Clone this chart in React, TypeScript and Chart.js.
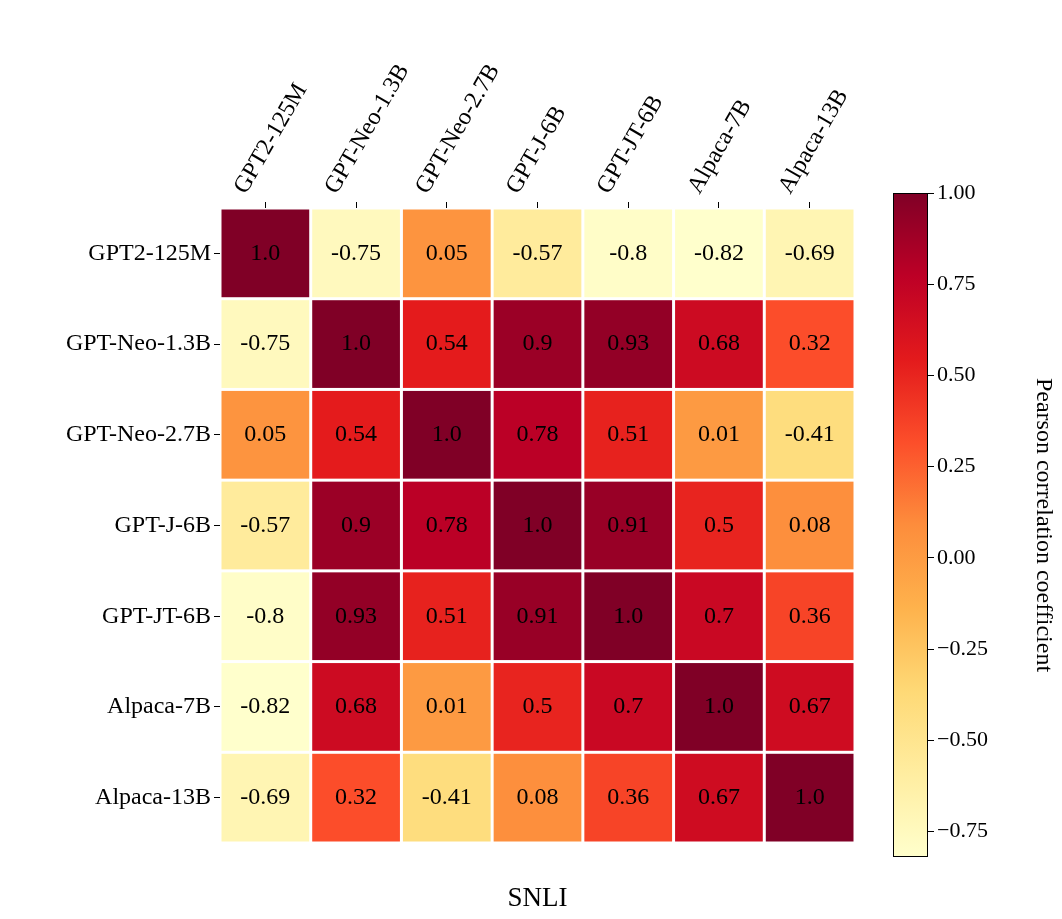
import React, { useEffect, useRef } from "react";
import { Chart, registerables } from "chart.js";
Chart.register(...registerables);

const models = ["GPT2-125M", "GPT-Neo-1.3B", "GPT-Neo-2.7B", "GPT-J-6B", "GPT-JT-6B", "Alpaca-7B", "Alpaca-13B"];
const row0 = [1.0, -0.75, 0.05, -0.57, -0.8, -0.82, -0.69];
const row1 = [-0.75, 1.0, 0.54, 0.9, 0.93, 0.68, 0.32];
const row2 = [0.05, 0.54, 1.0, 0.78, 0.51, 0.01, -0.41];
const row3 = [-0.57, 0.9, 0.78, 1.0, 0.91, 0.5, 0.08];
const row4 = [-0.8, 0.93, 0.51, 0.91, 1.0, 0.7, 0.36];
const row5 = [-0.82, 0.68, 0.01, 0.5, 0.7, 1.0, 0.67];
const row6 = [-0.69, 0.32, -0.41, 0.08, 0.36, 0.67, 1.0];
const matrix = [row0, row1, row2, row3, row4, row5, row6];
const cbTicks = [-0.75, -0.5, -0.25, 0, 0.25, 0.5, 0.75, 1.0];
const vMin = -0.82;
const vMax = 1.0;

const stops = ["#ffffcc", "#ffeda0", "#fed976", "#feb24c", "#fd8d3c", "#fc4e2a", "#e31a1c", "#bd0026", "#800026"];
function hex(c: string) { return [1, 3, 5].map(i => parseInt(c.slice(i, i + 2), 16)); }
function cmap(v: number) {
  let t = (v - vMin) / (vMax - vMin);
  t = Math.max(0, Math.min(1, t)) * (stops.length - 1);
  const i = Math.min(Math.floor(t), stops.length - 2);
  const f = t - i;
  const a = hex(stops[i]), b = hex(stops[i + 1]);
  return `rgb(${a.map((x, k) => Math.round(x + (b[k] - x) * f)).join(",")})`;
}
const FONT = "'Liberation Serif', 'DejaVu Serif', serif";
const fmt = (v: number) => (Number.isInteger(v) ? v.toFixed(1) : String(v));

export default function App() {
  const hm = useRef<HTMLCanvasElement>(null);
  const cb = useRef<HTMLCanvasElement>(null);
  useEffect(() => {
    const cells: any[] = [];
    matrix.forEach((r, y) => r.forEach((v, x) => cells.push({ x, y, v })));
    const heat = {
      id: "heat",
      beforeDatasetsDraw(chart: any) {
        const { ctx, scales } = chart;
        const xs = scales.x, ys = scales.y;
        ctx.save();
        cells.forEach(c => {
          const x0 = xs.getPixelForValue(c.x - 0.5), x1 = xs.getPixelForValue(c.x + 0.5);
          const y0 = ys.getPixelForValue(c.y - 0.5), y1 = ys.getPixelForValue(c.y + 0.5);
          ctx.fillStyle = cmap(c.v);
          ctx.fillRect(x0 + 1.5, y0 + 1.5, x1 - x0 - 3, y1 - y0 - 3);
          ctx.fillStyle = "#000";
          ctx.font = `24px ${FONT}`;
          ctx.textAlign = "center";
          ctx.textBaseline = "middle";
          ctx.fillText(fmt(c.v), (x0 + x1) / 2, (y0 + y1) / 2);
        });
        ctx.restore();
      },
    };
    const ch1 = new Chart(hm.current!, {
      type: "scatter",
      data: { datasets: [{ data: cells.map(c => ({ x: c.x, y: c.y })), pointRadius: 0 }] },
      options: {
        animation: false, responsive: false,
        layout: { padding: { left: 8, right: 25, top: 8, bottom: 0 } },
        plugins: { legend: { display: false }, tooltip: { enabled: false } },
        scales: {
          x: {
            position: "top", min: -0.5, max: 6.5,
            afterBuildTicks: (s: any) => { s.ticks = models.map((_, i) => ({ value: i })); },
            afterFit: (s: any) => { s.height = 200; },
            ticks: { callback: (v: any) => models[v as number], maxRotation: 60, minRotation: 60, color: "#000", font: { family: FONT, size: 24 } },
            grid: { drawOnChartArea: false, tickLength: 6, color: "#000" },
            border: { display: false },
          },
          x2: {
            position: "bottom", min: -0.5, max: 6.5, afterFit: (s: any) => { s.height = 76; },
            ticks: { display: false }, grid: { display: false }, border: { display: false },
            title: { display: true, text: "SNLI", color: "#000", font: { family: FONT, size: 27 }, padding: { top: 20 } },
          },
          y: {
            min: -0.5, max: 6.5, reverse: true,
            afterBuildTicks: (s: any) => { s.ticks = models.map((_, i) => ({ value: i })); },
            afterFit: (s: any) => { s.width = 212; },
            ticks: { callback: (v: any) => models[v as number], color: "#000", font: { family: FONT, size: 24 } },
            grid: { drawOnChartArea: false, tickLength: 6, color: "#000" },
            border: { display: false },
          },
        },
      } as any,
      plugins: [heat],
    });
    const grad = {
      id: "grad",
      beforeDatasetsDraw(chart: any) {
        const { ctx, chartArea: a } = chart;
        const g = ctx.createLinearGradient(0, a.bottom, 0, a.top);
        stops.forEach((c, i) => g.addColorStop(i / (stops.length - 1), c));
        ctx.save();
        ctx.fillStyle = g;
        ctx.fillRect(a.left, a.top, a.right - a.left, a.bottom - a.top);
        ctx.strokeStyle = "#000"; ctx.lineWidth = 1;
        ctx.strokeRect(a.left + 0.5, a.top + 0.5, a.right - a.left - 1, a.bottom - a.top - 1);
        ctx.restore();
      },
    };
    const ch2 = new Chart(cb.current!, {
      type: "scatter",
      data: { datasets: [{ data: [], pointRadius: 0 }] },
      options: {
        animation: false, responsive: false,
        layout: { padding: { left: 33, right: 0, top: 193, bottom: 62 } },
        plugins: { legend: { display: false }, tooltip: { enabled: false } },
        scales: {
          x: { display: false, min: 0, max: 1 },
          y: {
            position: "right", min: vMin, max: vMax,
            afterBuildTicks: (s: any) => { s.ticks = cbTicks.map(v => ({ value: v })); },
            afterFit: (s: any) => { s.width = 134; },
            ticks: { callback: (v: any) => (v as number).toFixed(2).replace("-", "\u2212"), color: "#000", font: { family: FONT, size: 22 } },
            grid: { drawOnChartArea: false, tickLength: 6, color: "#000" },
            border: { display: false },
            title: { display: true, text: "Pearson correlation coefficient", color: "#000", font: { family: FONT, size: 24 } },
          },
        },
      } as any,
      plugins: [grad],
    });
    return () => { ch1.destroy(); ch2.destroy(); };
  }, []);
  return (
    <div style={{ position: "fixed", left: 0, top: 0, width: 1062, height: 919, background: "#fff" }}>
      <canvas ref={hm} width={880} height={919} style={{ position: "absolute", left: 0, top: 0 }} />
      <canvas ref={cb} width={202} height={919} style={{ position: "absolute", left: 860, top: 0 }} />
    </div>
  );
}
